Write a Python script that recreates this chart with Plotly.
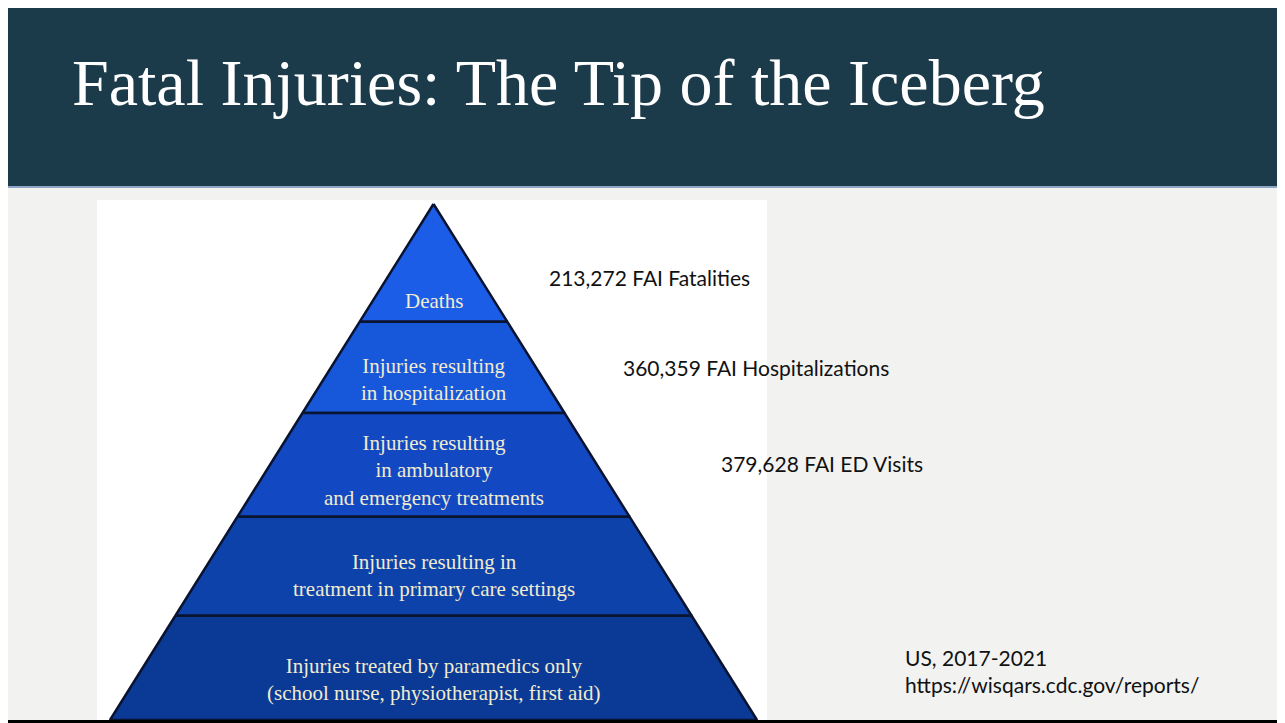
import plotly.graph_objects as go

# pyramid layers, top to bottom
layer_labels = [
    "Deaths",
    "Injuries resulting<br>in hospitalization",
    "Injuries resulting<br>in ambulatory<br>and emergency treatments",
    "Injuries resulting in<br>treatment in primary care settings",
    "Injuries treated by paramedics only<br>(school nurse, physiotherapist, first aid)",
]
# share of the pyramid height taken by each layer
layer_share = [0.228, 0.177, 0.201, 0.192, 0.202]

fai_counts = [213272, 360359, 379628]
fai_labels = ["FAI Fatalities", "FAI Hospitalizations", "FAI ED Visits"]

source_lines = ["US, 2017-2021", "https://wisqars.cdc.gov/reports/"]

layer_colors = ["#1b5de6", "#1757da", "#1249c2", "#0d42ab", "#0a3a96"]
label_shift = [7, 6, 5, 13, 13]  # px above each layer's bottom edge

W, H = 1285, 723
OFF = 8  # page margin of the html body


def px(v):
    return (v - OFF) / W


def py(v):
    return 1 - (v - OFF) / H


# pixel frame of the pyramid: apex / base
apex_px = (433.5 - OFF, 204 - OFF)
base_px = (110 - OFF, 757 - OFF, 720 - OFF)

# axis: x in half-base units (-1..1), y in depth (0 apex .. 1 base)
ux = (base_px[1] - base_px[0]) / 2
uy = base_px[2] - apex_px[1]
x_rng = [(0 - apex_px[0]) / ux, (W - apex_px[0]) / ux]
y_rng = [(H - apex_px[1]) / uy, (0 - apex_px[1]) / uy]

fig = go.Figure()

top = 0.0
label_y = []
for i, share in enumerate(layer_share):
    bot = top + share
    fig.add_trace(go.Scatter(
        x=[-top, top, bot, -bot, -top],
        y=[top, top, bot, bot, top],
        mode="lines", fill="toself",
        fillcolor=layer_colors[i],
        line=dict(color="#0a1430", width=2.5),
        hoverinfo="skip", showlegend=False,
    ))
    label_y.append(bot)
    top = bot

for lab, yb, sh in zip(layer_labels, label_y, label_shift):
    fig.add_annotation(
        x=0, y=yb, xref="x", yref="y", text=lab, showarrow=False,
        yanchor="bottom", yshift=sh,
        font=dict(family="Liberation Serif", size=21, color="#f1ebcf"),
    )

# counts on the right
count_pos = [(547, 277), (621, 367), (719, 463)]
for n, lab, (x0, y0) in zip(fai_counts, fai_labels, count_pos):
    fig.add_annotation(
        x=px(x0), y=py(y0), xref="paper", yref="paper",
        text=f"{n:,} {lab}", showarrow=False,
        xanchor="left", yanchor="middle",
        font=dict(family="Lato", size=21, color="#111111"),
    )

fig.add_annotation(
    x=px(903), y=py(671), xref="paper", yref="paper",
    text="<br>".join(source_lines), showarrow=False, align="left",
    xanchor="left", yanchor="middle",
    font=dict(family="Lato", size=21, color="#111111"),
)

fig.add_annotation(
    x=px(70), y=py(83), xref="paper", yref="paper",
    text="Fatal Injuries: The Tip of the Iceberg", showarrow=False,
    xanchor="left", yanchor="middle",
    font=dict(family="Liberation Serif", size=66, color="#ffffff"),
)

shapes = [
    # header band
    dict(type="rect", xref="paper", yref="paper", x0=0, x1=1, y0=py(186), y1=1,
         fillcolor="#1b3a4a", line_width=0, layer="below"),
    dict(type="rect", xref="paper", yref="paper", x0=0, x1=1, y0=py(188), y1=py(186),
         fillcolor="#8fa5c6", line_width=0, layer="below"),
    # white picture area
    dict(type="rect", xref="paper", yref="paper", x0=px(97), x1=px(767), y0=0, y1=py(200),
         fillcolor="#ffffff", line_width=0, layer="below"),
    # bottom slide border
    dict(type="rect", xref="paper", yref="paper", x0=0, x1=1, y0=py(723), y1=py(720),
         fillcolor="#000000", line_width=0, layer="above"),
]

fig.update_layout(
    width=W, height=H,
    margin=dict(l=0, r=0, t=0, b=0),
    paper_bgcolor="#f2f3f1", plot_bgcolor="rgba(0,0,0,0)",
    xaxis=dict(range=x_rng, visible=False, fixedrange=True),
    yaxis=dict(range=y_rng, visible=False, fixedrange=True),
    shapes=shapes,
)

fig.write_html("out.html")
